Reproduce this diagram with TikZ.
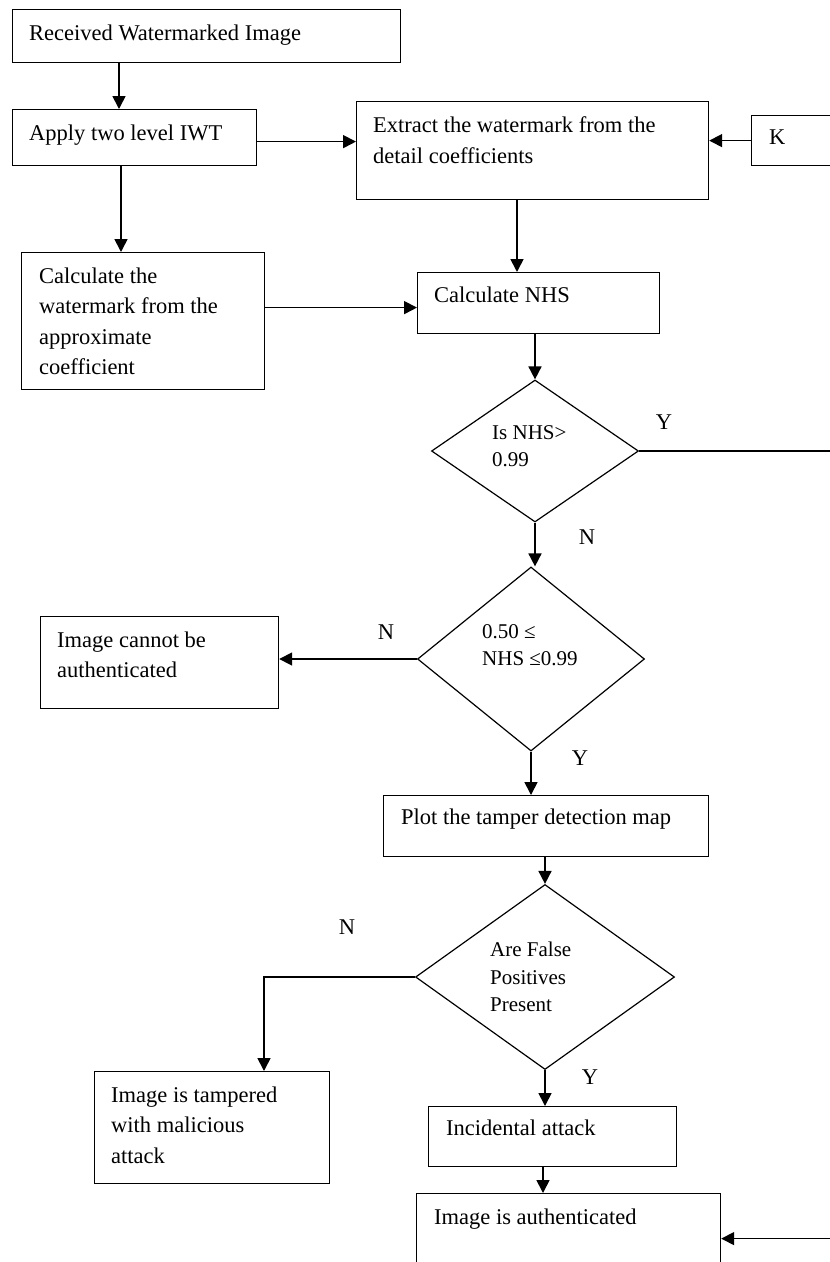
\documentclass[tikz,border=0pt]{standalone}
\usepackage{fontspec}
\setmainfont{Liberation Serif}
\usetikzlibrary{shapes.geometric, arrows.meta, positioning, calc}

\begin{document}
\begin{tikzpicture}[
    x=1pt, y=-1pt,
    box/.style={draw, line width=1.2pt, anchor=north west, inner sep=0pt},
    decision/.style={draw, diamond, line width=1.2pt, inner sep=0pt},
    txt/.style={anchor=north west, inner sep=0pt, align=left, font=\fontsize{22.5}{30.5}\selectfont},
    dtxt/.style={anchor=north west, inner sep=0pt, align=left, font=\fontsize{21}{27.5}\selectfont},
    lbl/.style={inner sep=0pt, font=\fontsize{22.5}{27}\selectfont},
    arrow/.style={-{Triangle[length=13pt, width=13pt]}, line width=1.7pt}
]
    \useasboundingbox (0,0) rectangle (830,1262);

    \node[box, minimum width=388pt, minimum height=53pt] (received) at (12,9) {};
    \node[box, minimum width=244pt, minimum height=56pt] (apply) at (12,109) {};
    \node[box, minimum width=352pt, minimum height=98pt] (extract) at (356,101) {};
    \node[box, minimum width=100pt, minimum height=50pt] (key) at (751,115) {};
    \node[box, minimum width=243pt, minimum height=137pt] (approx) at (21,252) {};
    \node[box, minimum width=242pt, minimum height=61pt] (nhs) at (417,272) {};
    \node[decision, minimum width=207pt, minimum height=142pt] (isnhs) at (535,451) {};
    \node[decision, minimum width=227pt, minimum height=184pt] (range) at (531,659) {};
    \node[box, minimum width=238pt, minimum height=92pt] (notauth) at (40,616) {};
    \node[box, minimum width=325pt, minimum height=61pt] (plot) at (383,795) {};
    \node[decision, minimum width=259pt, minimum height=185pt] (falsepos) at (545,977) {};
    \node[box, minimum width=235pt, minimum height=112pt] (tampered) at (94,1071) {};
    \node[box, minimum width=248pt, minimum height=60pt] (incidental) at (428,1106) {};
    \node[box, minimum width=304pt, minimum height=90pt] (authentic) at (416,1193) {};
    \coordinate (rail) at (840,0);

    \node[txt] (received-t) at (29,24.5) {Received Watermarked Image};
    \node[txt] (apply-t) at (29,124.5) {Apply two level IWT};
    \node[txt] (extract-t) at (373,116.5) {Extract the watermark from the\\detail coefficients};
    \node[txt] (key-t) at (769,129.5) {K};
    \node[txt] (approx-t) at (39,267.5) {Calculate the\\watermark from the\\approximate\\coefficient};
    \node[txt] (nhs-t) at (434,286.5) {Calculate NHS};
    \node[dtxt] (isnhs-t) at (492,425) {Is NHS>\\0.99};
    \node[dtxt] (range-t) at (482,624) {0.50 ≤\\NHS ≤0.99};
    \node[txt] (notauth-t) at (57,631.5) {Image cannot be\\authenticated};
    \node[txt] (plot-t) at (401,808.5) {Plot the tamper detection map};
    \node[dtxt] (falsepos-t) at (490,942) {Are False\\Positives\\Present};
    \node[txt] (tampered-t) at (111,1086.5) {Image is tampered\\with malicious\\attack};
    \node[txt] (incidental-t) at (446,1119.5) {Incidental attack};
    \node[txt] (authentic-t) at (434,1208.5) {Image is authenticated};

    \draw[arrow] ([xshift=107pt]received.south west) -- ([xshift=107pt]apply.north west);
    \draw[arrow] ([yshift=-4pt]apply.east) -- ([yshift=-4pt]apply.east -| extract.west);
    \draw[arrow] (key.west) -- (key.west -| extract.east);
    \draw[arrow] ([xshift=109pt]apply.south west) -- ([xshift=109pt]apply.south west |- approx.north);
    \draw[arrow] ([yshift=13.5pt]approx.east) -- ([yshift=13.5pt]approx.east -| nhs.west);
    \draw[arrow] ([xshift=161pt]extract.south west) -- ([xshift=161pt]extract.south west |- nhs.north);
    \draw[arrow] (isnhs.north |- nhs.south) -- (isnhs.north);
    \draw[arrow] (isnhs.south) -- (isnhs.south |- range.north);
    \draw[arrow] (range.west) -- (range.west -| notauth.east);
    \draw[arrow] (range.south) -- (range.south |- plot.north);
    \draw[arrow] (falsepos.north |- plot.south) -- (falsepos.north);
    \draw[arrow] (falsepos.west) -| ([xshift=170pt]tampered.north west);
    \draw[arrow] (falsepos.south) -- (falsepos.south |- incidental.north);
    \draw[arrow] ([xshift=115pt]incidental.south west) -- ([xshift=115pt]incidental.south west |- authentic.north);
    \draw[arrow] (isnhs.east) -- (isnhs.east -| rail) -- (rail |- authentic.east) -- (authentic.east);

    \node[lbl] (y-isnhs) at (664,422) {Y};
    \node[lbl] (n-isnhs) at (587,537) {N};
    \node[lbl] (n-range) at (386,632) {N};
    \node[lbl] (y-range) at (580,758) {Y};
    \node[lbl] (n-falsepos) at (347,927) {N};
    \node[lbl] (y-falsepos) at (590,1077) {Y};
\end{tikzpicture}
\end{document}
